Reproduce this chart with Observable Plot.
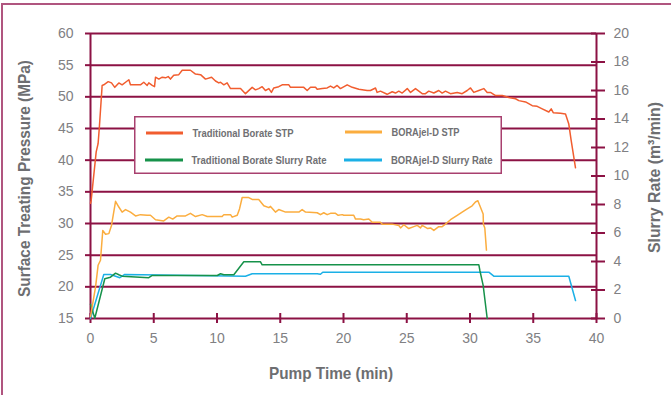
<!DOCTYPE html>
<html><head><meta charset="utf-8">
<script src="https://cdn.jsdelivr.net/npm/d3@7"></script>
<script src="https://cdn.jsdelivr.net/npm/@observablehq/plot@0.6"></script>
<style>
body{margin:0;background:#fff;}
#wrap{position:relative;width:671px;height:395px;overflow:hidden;background:#fff;}
#border{position:absolute;left:1px;top:3px;width:700px;height:420px;border-left:2px solid #b0557f;border-top:2px solid #b0557f;pointer-events:none;}
#chart svg{display:block;}
</style></head>
<body>
<div id="wrap">
<div id="chart"></div>
<div id="border"></div>
</div>
<script>
// ---- data ----
const seriesNames = ["Traditional Borate STP", "BORAjel-D STP", "Traditional Borate Slurry Rate", "BORAjel-D Slurry Rate"];
const seriesColors = ["#f15d2f", "#fbad3f", "#16924a", "#1bb0e6"];
const xTicks = [0, 5, 10, 15, 20, 25, 30, 35, 40];
const pressureTicks = [15, 20, 25, 30, 35, 40, 45, 50, 55, 60];
const rateTicks = [0, 2, 4, 6, 8, 10, 12, 14, 16, 18, 20];
const xTitle = "Pump Time (min)";
const yTitle = "Surface Treating Pressure (MPa)";
const y2Title = "Slurry Rate (m³/min)";

// [time (min), pressure (MPa)]
const tradSTP = [[0,33.2],[0.05,33.6],[0.45,41.3],[0.6,42.6],[0.7,45.2],[0.92,51.8],[1.05,51.9],[1.4,52.4],[1.66,52.2],[1.92,51.5],[2.24,52.2],[2.5,51.9],[2.9,52.5],[3.03,52.7],[3.16,51.9],[3.95,51.9],[4.21,52.3],[4.48,51.8],[4.61,52.2],[4.88,51.8],[5.06,51.6],[5.14,53.1],[5.4,52.8],[5.67,53.1],[5.93,53.0],[6.14,53.2],[6.32,52.8],[6.58,53.4],[6.98,53.5],[7.25,54.2],[7.9,54.2],[8.3,53.6],[8.7,53.5],[9.09,52.8],[9.57,53.1],[9.88,52.5],[10.14,52.2],[10.28,52.3],[10.54,51.9],[10.8,52.2],[11.07,51.3],[11.86,51.3],[12.25,50.5],[12.78,51.5],[13.04,51.1],[13.3,51.3],[13.57,51.6],[13.83,51.0],[14.1,51.3],[14.3,50.7],[14.49,51.4],[14.88,51.6],[15.15,51.9],[15.68,51.9],[15.81,51.5],[16.86,51.5],[17.13,51.0],[17.39,51.5],[17.79,51.5],[17.92,51.2],[18.32,51.3],[18.71,51.4],[18.97,51.7],[19.23,51.4],[19.5,51.8],[19.76,51.3],[20.29,51.9],[20.69,51.5],[21.21,51.2],[21.87,51.0],[22.13,51.0],[22.53,51.4],[22.66,50.7],[22.92,50.9],[23.45,50.4],[23.85,50.8],[24.11,50.6],[24.37,50.9],[24.64,50.6],[25.04,51.3],[25.3,50.7],[25.69,51.3],[26.22,50.5],[26.48,50.5],[26.74,50.9],[27.14,50.6],[27.53,51.0],[27.8,50.6],[28.06,50.9],[28.46,50.5],[28.99,50.7],[29.38,50.5],[29.78,51.0],[30.04,51.4],[30.3,50.7],[30.7,51.0],[31.09,51.3],[31.36,50.7],[31.62,50.7],[32.02,50.2],[32.55,50.2],[33.07,49.9],[33.6,49.7],[33.86,49.4],[34.39,49.2],[34.92,48.6],[35.31,48.5],[35.71,48.1],[36.23,47.6],[36.42,48.1],[36.58,47.5],[37.15,47.4],[37.55,47.3],[37.81,45.7],[38.0,43.1],[38.34,38.8]];

// [time (min), pressure (MPa)]
const borajelSTP = [[0,15.3],[0.4,20.0],[0.6,23.4],[0.79,24.2],[0.97,28.9],[1.19,28.3],[1.45,28.4],[1.66,29.7],[1.98,33.5],[2.24,32.6],[2.5,31.8],[2.77,32.2],[3.16,31.8],[3.56,31.2],[3.95,31.4],[4.48,31.3],[4.74,31.3],[5.14,30.6],[5.79,30.4],[6.19,31.0],[6.5,30.7],[6.85,31.2],[7.51,31.2],[7.9,31.6],[8.3,31.1],[8.83,31.4],[9.23,31.1],[10.41,31.1],[10.54,31.4],[11.07,31.4],[11.2,31.0],[11.6,31.3],[11.78,32.3],[11.99,34.1],[12.51,34.1],[12.78,33.8],[13.3,33.8],[13.7,32.8],[14.1,32.5],[14.23,32.7],[14.62,31.8],[14.88,32.2],[15.42,31.8],[16.47,31.8],[16.73,32.2],[17.0,31.8],[17.92,31.7],[18.18,31.4],[18.44,31.7],[18.71,31.4],[18.97,31.6],[19.37,31.6],[19.58,31.3],[19.9,31.4],[20.02,31.3],[20.81,31.3],[20.95,30.7],[21.34,30.7],[21.6,30.6],[22.0,30.7],[22.27,30.2],[22.92,30.2],[23.06,29.9],[23.85,29.9],[24.37,29.7],[24.51,29.3],[24.77,29.8],[25.16,29.2],[25.56,29.5],[25.83,29.7],[26.09,29.3],[26.22,29.7],[26.66,29.2],[26.88,29.3],[27.14,28.9],[27.53,29.5],[27.8,29.5],[28.06,29.9],[28.46,30.6],[28.99,31.3],[29.38,31.8],[29.78,32.3],[30.17,32.8],[30.43,33.4],[30.62,33.6],[30.78,32.8],[31.04,31.5],[31.06,29.9],[31.17,29.3],[31.3,25.8]];

// [time (min), slurry rate (m3/min)]
const tradRate = [[0,1.0],[0.34,0.02],[1.13,2.79],[1.58,2.9],[1.98,3.18],[2.24,3.07],[2.5,2.97],[4.61,2.86],[4.88,3.02],[10.02,3.02],[10.28,3.14],[10.54,3.07],[11.33,3.07],[12.12,3.98],[13.44,3.98],[13.57,3.77],[30.7,3.77],[30.78,3.37],[31.04,2.32],[31.36,0]];

// [time (min), slurry rate (m3/min)]
const borajelRate = [[0,0],[1.05,3.09],[1.58,3.09],[1.98,2.97],[2.32,2.86],[2.71,3.09],[12.25,2.97],[12.78,3.14],[17.92,3.14],[18.18,3.1],[18.36,3.25],[31.49,3.25],[31.88,2.97],[37.81,2.97],[38.34,1.26]];

// ---- chart ----
const gridColor = "#8c1244";
const tickText = "#808083";
const titleText = "#6d6e71";
const sans = '"Liberation Sans",Arial,sans-serif';
// right axis (rate 0..20) maps onto left axis (pressure 15..60)
const rateToP = r => 15 + r * (60 - 15) / 20;
const pToRate = p => (p - 15) * 20 / (60 - 15);

const chart = Plot.plot({
  width: 671, height: 395,
  marginLeft: 90, marginRight: 75, marginTop: 33, marginBottom: 77,
  x: {domain: [0, 40]},
  y: {domain: [15, 60]},
  style: {fontFamily: sans, fontSize: "14px", background: "transparent"},
  marks: [
    Plot.gridY(pressureTicks, {stroke: gridColor, strokeOpacity: 1, strokeWidth: 2}),
    Plot.ruleX([0, 40], {stroke: gridColor, strokeWidth: 2}),
    Plot.axisY(pressureTicks, {anchor: "left", tickSize: 5, tickPadding: 12, stroke: gridColor, strokeWidth: 2, fill: tickText, label: null}),
    Plot.axisY(rateTicks.map(rateToP), {anchor: "right", tickSize: 8, tickPadding: 9, stroke: gridColor, strokeWidth: 2, fill: tickText, label: null, tickFormat: v => String(Math.round(pToRate(v)))}),
    Plot.axisY(rateTicks.map(rateToP), {anchor: "right", tickSize: -6, stroke: gridColor, strokeWidth: 2, label: null, tickFormat: () => ""}),
    Plot.axisX(xTicks, {anchor: "bottom", tickSize: 5, tickPadding: 10, stroke: gridColor, strokeWidth: 2, fill: tickText, label: null}),
    Plot.axisX(xTicks, {anchor: "bottom", tickSize: -5, stroke: gridColor, strokeWidth: 2, label: null, tickFormat: () => ""}),
    Plot.line(borajelRate, {x: d => d[0], y: d => rateToP(d[1]), stroke: seriesColors[3], strokeWidth: 1.5}),
    Plot.line(tradRate, {x: d => d[0], y: d => rateToP(d[1]), stroke: seriesColors[2], strokeWidth: 1.5}),
    Plot.line(borajelSTP, {x: d => d[0], y: d => d[1], stroke: seriesColors[1], strokeWidth: 1.5}),
    Plot.line(tradSTP, {x: d => d[0], y: d => d[1], stroke: seriesColors[0], strokeWidth: 1.5})
  ]
});
document.getElementById("chart").appendChild(chart);

// ---- axis titles (compressed bold, like the condensed original face) ----
const svg = d3.select(chart);
function title(txt, x, y, len, rot) {
  svg.append("text")
    .attr("transform", `translate(${x},${y})` + (rot ? ` rotate(${rot})` : ""))
    .attr("font-family", sans).attr("font-weight", "bold").attr("font-size", 17)
    .attr("fill", titleText).attr("text-anchor", "start")
    .attr("textLength", len).attr("lengthAdjust", "spacingAndGlyphs")
    .text(txt);
}
title(xTitle, 269, 379, 124, 0);
title(yTitle, 29.5, 297, 237, -90);
title(y2Title, 660, 253, 151, -90);

// ---- legend ----
const lg = svg.append("g");
lg.append("rect").attr("x", 134.75).attr("y", 116.75).attr("width", 366.5).attr("height", 56.5)
  .attr("fill", "#fff").attr("stroke", "#a8406f").attr("stroke-width", 1.5);
const legendItems = [
  {k: 0, x1: 146, x2: 183, y: 133, tx: 192.5, tl: 101},
  {k: 1, x1: 345, x2: 382, y: 132, tx: 391.5, tl: 68},
  {k: 2, x1: 145, x2: 183, y: 160, tx: 191.5, tl: 135},
  {k: 3, x1: 344, x2: 382, y: 160, tx: 391, tl: 101.5}
];
legendItems.forEach(d => {
  lg.append("line").attr("x1", d.x1).attr("x2", d.x2).attr("y1", d.y).attr("y2", d.y)
    .attr("stroke", seriesColors[d.k]).attr("stroke-width", 3);
  lg.append("text").attr("x", d.tx).attr("y", d.y + 4)
    .attr("text-anchor", "start")
    .attr("font-family", sans).attr("font-weight", "bold").attr("font-size", 11)
    .attr("fill", "#707073").attr("textLength", d.tl).attr("lengthAdjust", "spacingAndGlyphs")
    .text(seriesNames[d.k]);
});
</script>
</body></html>
